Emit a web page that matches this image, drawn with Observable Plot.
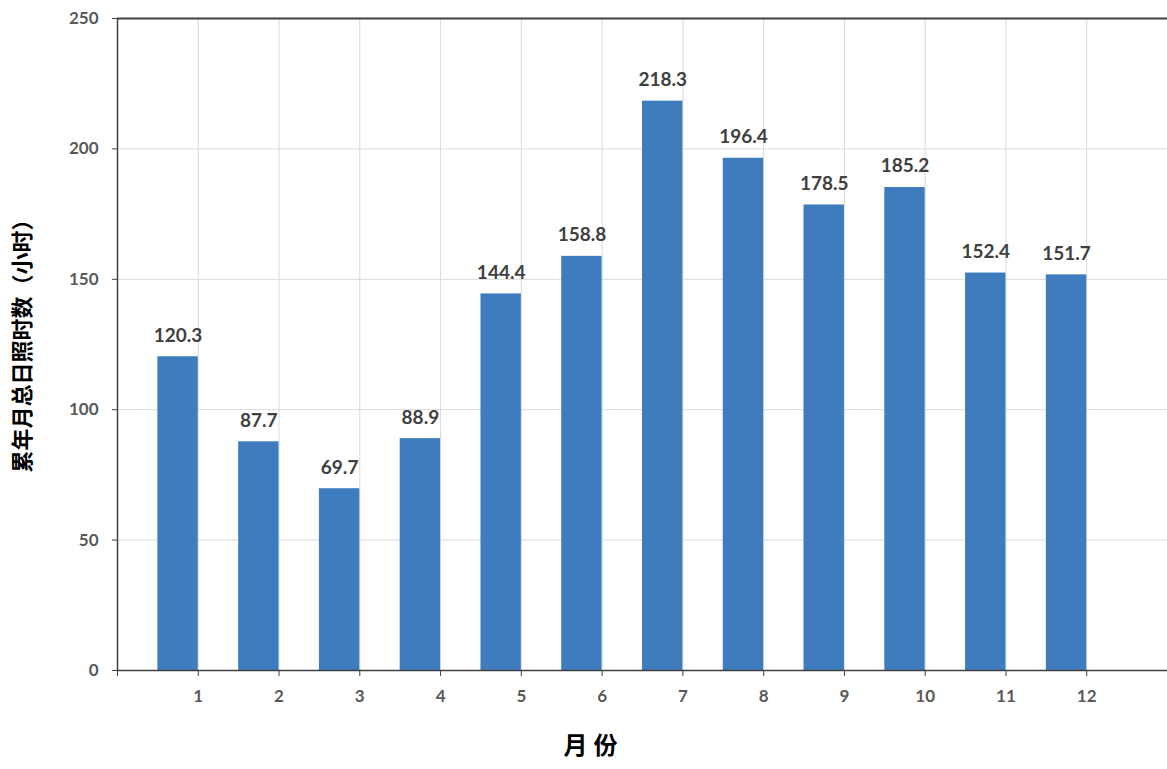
<!DOCTYPE html>
<html>
<head>
<meta charset="utf-8">
<script src="https://cdn.jsdelivr.net/npm/d3@7"></script>
<script src="https://cdn.jsdelivr.net/npm/@observablehq/plot@0.6"></script>
<style>
  html, body { margin: 0; padding: 0; background: #fff; }
  #chart svg { display: block; }
</style>
</head>
<body>
<div id="chart"></div>
<script>
const months = [1, 2, 3, 4, 5, 6, 7, 8, 9, 10, 11, 12];
const hours = [120.3, 87.7, 69.7, 88.9, 144.4, 158.8, 218.3, 196.4, 178.5, 185.2, 152.4, 151.7];
const yTicks = [0, 50, 100, 150, 200, 250];
const xTicks = [0, 1, 2, 3, 4, 5, 6, 7, 8, 9, 10, 11, 12];
const yTitle = "累年月总日照时数（小时）";
const xTitle = "月 份";

const data = months.map((m, i) => ({month: m, value: hours[i]}));
const font = "Lato, 'Noto Sans CJK SC', sans-serif";

const chart = Plot.plot({
  width: 1167,
  height: 769,
  marginLeft: 117,
  marginRight: 0,
  marginTop: 18,
  marginBottom: 99,
  style: {fontFamily: font, background: "#fff"},
  x: {domain: [0, 13], axis: null},
  y: {domain: [0, 250], axis: null},
  marks: [
    Plot.gridY(yTicks.filter(d => d > 0 && d < 250), {stroke: "#d9d9d9", strokeOpacity: 1, strokeWidth: 1}),
    Plot.gridX(months, {stroke: "#d9d9d9", strokeOpacity: 1, strokeWidth: 1}),
    Plot.rectY(data, {x1: d => d.month - 0.5, x2: "month", y: "value", fill: "#3e7cbd"}),
    Plot.ruleY([250], {stroke: "#404040", strokeWidth: 2}),
    Plot.ruleY([0], {stroke: "#404040", strokeWidth: 1.5}),
    Plot.ruleX([0], {stroke: "#404040", strokeWidth: 1.5}),
    Plot.axisY({ticks: yTicks, tickSize: 5, tickPadding: 14, label: null, stroke: "#404040",
      fontSize: 17, fontWeight: "bold", fill: "#595959", tickFormat: d => d}),
    Plot.axisX({ticks: xTicks, tickSize: 6, tickPadding: 13, label: null, stroke: "#404040",
      fontSize: 17, fontWeight: "bold", fill: "#595959", tickFormat: d => d === 0 ? "" : d}),
    Plot.text(data, {x: d => d.month - 0.25, y: "value", text: d => d.value.toFixed(1),
      lineAnchor: "bottom", dy: -15, fontSize: 19, fontWeight: "bold", fill: "#404040"}),
    Plot.text([yTitle], {frameAnchor: "left", textAnchor: "middle", text: d => d, rotate: -90, dx: -95, dy: -4,
      fontSize: 22, fontWeight: "bold", fill: "#000", style: {letterSpacing: "3px"}}),
    Plot.text([xTitle], {frameAnchor: "bottom", textAnchor: "middle", text: d => d, dx: -52, dy: 83,
      fontSize: 24, fontWeight: "bold", fill: "#000", style: {letterSpacing: "3px"}})
  ]
});
document.getElementById("chart").append(chart);
</script>
</body>
</html>
